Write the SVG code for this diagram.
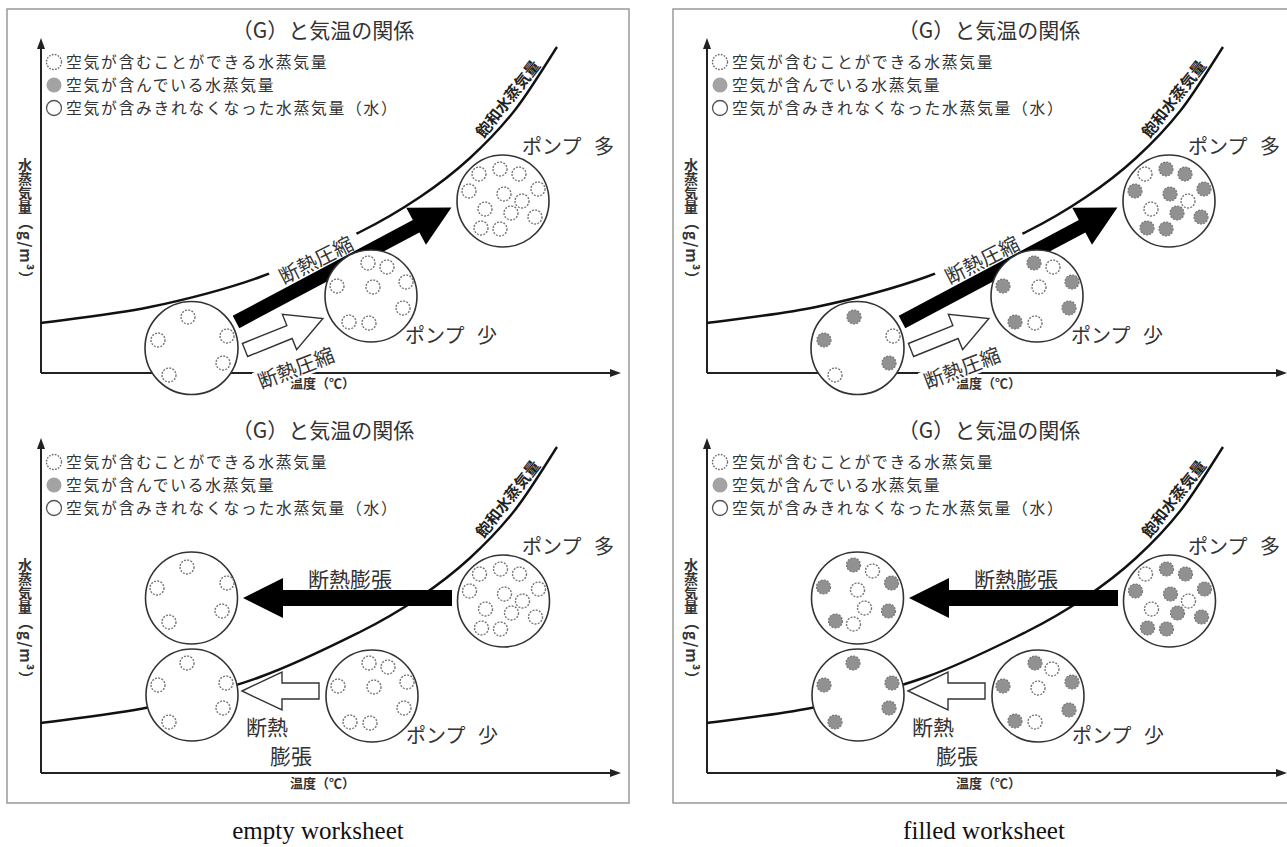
<svg xmlns="http://www.w3.org/2000/svg" width="1287" height="847" viewBox="0 0 1287 847">
<style>
.frame{fill:none;stroke:#999;stroke-width:1.5}
.ax{stroke:#222;stroke-width:2;fill:none}
.axh{fill:#222}
.curve{fill:none;stroke:#111;stroke-width:2.4}
.big{fill:#fff;stroke:#333;stroke-width:1.6}
.d{fill:#fff;stroke:#777;stroke-width:1.4;stroke-dasharray:2 1.3}
.g{fill:#919191;stroke:#777;stroke-width:1.2;stroke-dasharray:2 1.3}
.ld{fill:#fff;stroke:#666;stroke-width:1.4;stroke-dasharray:1.6 1.4}
.lg{fill:#a3a3a3}
.lo{fill:#fff;stroke:#555;stroke-width:1.3}
.jp{font-family:"Noto Sans CJK JP","Noto Sans CJK SC",sans-serif;fill:#333}
.title{font-size:21px;text-anchor:middle}
.leg{font-size:15.8px;letter-spacing:1.7px}
.lab{font-size:20px}
.bl{font-weight:bold}
.sat{font-size:15.5px;font-weight:bold;fill:#222}
.hol{fill:#fff;stroke:#333;stroke-width:1.4}
.blk{fill:#000}
.bg{fill:#fff}
.cap{font-family:"Liberation Serif",serif;font-size:25px;fill:#111;text-anchor:middle}
</style>

<rect class="frame" x="7" y="9" width="622" height="794"/>
<rect class="frame" x="673" y="9" width="622" height="794"/>

<!-- ===== TOP LEFT (empty, compression) ===== -->
<g id="tl" transform="translate(0,0)">
 <text class="jp title" x="323" y="38">（G）と気温の関係</text>
 <g id="tl-legend">
  <circle class="ld" cx="54" cy="62" r="7.5"/><text class="jp leg" x="66" y="68">空気が含むことができる水蒸気量</text>
  <circle class="lg" cx="54" cy="85" r="7.5"/><text class="jp leg" x="66" y="91">空気が含んでいる水蒸気量</text>
  <circle class="lo" cx="54" cy="108" r="7.5"/><text class="jp leg" x="66" y="114">空気が含みきれなくなった水蒸気量（水）</text>
 </g>
 <g id="tl-axes">
  <line class="ax" x1="41" y1="373" x2="41" y2="46"/><polygon class="axh" points="41,38 37,49 45,49"/>
  <line class="ax" x1="41" y1="373" x2="612" y2="373"/><polygon class="axh" points="621,373 610,369 610,377"/>
  <text class="jp bl" x="25" y="158" font-size="14" style="writing-mode:vertical-rl">水蒸気量</text>
  <text class="jp bl" font-size="15" letter-spacing="1" text-anchor="middle" transform="translate(20,251) rotate(90)">（g/m³）</text>
  <text class="jp bl" x="290" y="388" font-size="13">温度（℃）</text>
 </g>
 <path class="curve" d="M41,323 C59.2,320.3 113.5,314.7 150,307 C186.5,299.3 225,289.5 260,277 C295,264.5 333.3,245.3 360,232 C386.7,218.7 401.7,209.3 420,197 C438.3,184.7 454.2,172.5 470,158 C485.8,143.5 500.5,128.5 515,110 C529.5,91.5 550,57.5 557,47"/>
 <text class="jp sat" text-anchor="middle" transform="translate(508,99) rotate(-52)" y="5.5">飽和水蒸気量</text>
 <g id="tl-labels">
  <g transform="translate(316,260) rotate(-27)"><rect class="bg" x="-48" y="-11" width="96" height="22"/><text class="jp lab" text-anchor="middle" y="7.5">断熱圧縮</text></g>
  <g transform="translate(296,368) rotate(-21)"><rect class="bg" x="-43" y="-11" width="86" height="22"/><text class="jp lab" text-anchor="middle" y="7.5">断熱圧縮</text></g>
 </g>
 <g id="tl-connectors">
  <polygon class="blk" transform="translate(236,322) rotate(-28)" points="0,-7 204,-7 204,-21 244,0 204,21 204,7 0,7"/>
  <polygon class="hol" transform="translate(245,350) rotate(-22)" points="0,-7 48,-7 48,-19 84,0 48,19 48,7 0,7"/>
 </g>
 <g id="tl-A" transform="translate(191.5,348)">
  <circle class="big" r="46.5"/>
  <circle class="d" cx="-3.5" cy="-31" r="7"/><circle class="d" cx="-33.5" cy="-8" r="7"/><circle class="d" cx="35.5" cy="-12" r="7"/><circle class="d" cx="31.5" cy="15" r="7"/><circle class="d" cx="-22.5" cy="27" r="7"/>
 </g>
 <g id="tl-B" transform="translate(371,296)">
  <circle class="big" r="46"/>
  <circle class="d" cx="-3" cy="-33" r="7"/><circle class="d" cx="16" cy="-29" r="7"/><circle class="d" cx="35" cy="-14" r="7"/><circle class="d" cx="-34" cy="-10" r="7"/><circle class="d" cx="2" cy="-9" r="7"/><circle class="d" cx="32" cy="12" r="7"/><circle class="d" cx="-22" cy="26" r="7"/><circle class="d" cx="-2" cy="27" r="7"/>
  <text class="jp lab" x="34" y="46.5" word-spacing="8">ポンプ 少</text>
 </g>
 <g id="tl-C" transform="translate(503,201)">
  <circle class="big" r="46"/>
  <circle class="d" cx="-24" cy="-27" r="7"/><circle class="d" cx="-3" cy="-32" r="7"/><circle class="d" cx="16" cy="-27" r="7"/><circle class="d" cx="-34" cy="-10" r="7"/><circle class="d" cx="1" cy="-7" r="7"/><circle class="d" cx="35" cy="-12" r="7"/><circle class="d" cx="-18" cy="8" r="7"/><circle class="d" cx="19" cy="0" r="7"/><circle class="d" cx="8" cy="12" r="7"/><circle class="d" cx="32" cy="16" r="7"/><circle class="d" cx="-22" cy="27" r="7"/><circle class="d" cx="-3" cy="28" r="7"/>
  <text class="jp lab" x="19" y="-47" word-spacing="8">ポンプ 多</text>
 </g>
</g>

<!-- ===== TOP RIGHT (filled, compression) ===== -->
<g id="tr" transform="translate(666,0)">
 <text class="jp title" x="323" y="38">（G）と気温の関係</text>
 <g id="tr-legend">
  <circle class="ld" cx="54" cy="62" r="7.5"/><text class="jp leg" x="66" y="68">空気が含むことができる水蒸気量</text>
  <circle class="lg" cx="54" cy="85" r="7.5"/><text class="jp leg" x="66" y="91">空気が含んでいる水蒸気量</text>
  <circle class="lo" cx="54" cy="108" r="7.5"/><text class="jp leg" x="66" y="114">空気が含みきれなくなった水蒸気量（水）</text>
 </g>
 <g id="tr-axes">
  <line class="ax" x1="41" y1="373" x2="41" y2="46"/><polygon class="axh" points="41,38 37,49 45,49"/>
  <line class="ax" x1="41" y1="373" x2="612" y2="373"/><polygon class="axh" points="621,373 610,369 610,377"/>
  <text class="jp bl" x="25" y="158" font-size="14" style="writing-mode:vertical-rl">水蒸気量</text>
  <text class="jp bl" font-size="15" letter-spacing="1" text-anchor="middle" transform="translate(20,251) rotate(90)">（g/m³）</text>
  <text class="jp bl" x="290" y="388" font-size="13">温度（℃）</text>
 </g>
 <path class="curve" d="M41,323 C59.2,320.3 113.5,314.7 150,307 C186.5,299.3 225,289.5 260,277 C295,264.5 333.3,245.3 360,232 C386.7,218.7 401.7,209.3 420,197 C438.3,184.7 454.2,172.5 470,158 C485.8,143.5 500.5,128.5 515,110 C529.5,91.5 550,57.5 557,47"/>
 <text class="jp sat" text-anchor="middle" transform="translate(508,99) rotate(-52)" y="5.5">飽和水蒸気量</text>
 <g id="tr-labels">
  <g transform="translate(316,260) rotate(-27)"><rect class="bg" x="-48" y="-11" width="96" height="22"/><text class="jp lab" text-anchor="middle" y="7.5">断熱圧縮</text></g>
  <g transform="translate(296,368) rotate(-21)"><rect class="bg" x="-43" y="-11" width="86" height="22"/><text class="jp lab" text-anchor="middle" y="7.5">断熱圧縮</text></g>
 </g>
 <g id="tr-connectors">
  <polygon class="blk" transform="translate(236,322) rotate(-28)" points="0,-7 204,-7 204,-21 244,0 204,21 204,7 0,7"/>
  <polygon class="hol" transform="translate(245,350) rotate(-22)" points="0,-7 48,-7 48,-19 84,0 48,19 48,7 0,7"/>
 </g>
 <g id="tr-A" transform="translate(191.5,348)">
  <circle class="big" r="46.5"/>
  <circle class="g" cx="-3.5" cy="-31" r="7"/><circle class="g" cx="-33.5" cy="-8" r="7"/><circle class="d" cx="35.5" cy="-12" r="7"/><circle class="g" cx="31.5" cy="15" r="7"/><circle class="d" cx="-22.5" cy="27" r="7"/>
 </g>
 <g id="tr-B" transform="translate(371,296)">
  <circle class="big" r="46"/>
  <circle class="g" cx="-3" cy="-33" r="7"/><circle class="d" cx="16" cy="-29" r="7"/><circle class="g" cx="35" cy="-14" r="7"/><circle class="g" cx="-34" cy="-10" r="7"/><circle class="d" cx="2" cy="-9" r="7"/><circle class="g" cx="32" cy="12" r="7"/><circle class="g" cx="-22" cy="26" r="7"/><circle class="d" cx="-2" cy="27" r="7"/>
  <text class="jp lab" x="34" y="46.5" word-spacing="8">ポンプ 少</text>
 </g>
 <g id="tr-C" transform="translate(503,201)">
  <circle class="big" r="46"/>
  <circle class="d" cx="-24" cy="-27" r="7"/><circle class="g" cx="-3" cy="-32" r="7"/><circle class="g" cx="16" cy="-27" r="7"/><circle class="g" cx="-34" cy="-10" r="7"/><circle class="g" cx="1" cy="-7" r="7"/><circle class="g" cx="35" cy="-12" r="7"/><circle class="d" cx="-18" cy="8" r="7"/><circle class="d" cx="19" cy="0" r="7"/><circle class="g" cx="8" cy="12" r="7"/><circle class="g" cx="32" cy="16" r="7"/><circle class="g" cx="-22" cy="27" r="7"/><circle class="g" cx="-3" cy="28" r="7"/>
  <text class="jp lab" x="19" y="-47" word-spacing="8">ポンプ 多</text>
 </g>
</g>

<!-- ===== BOTTOM LEFT (empty, expansion) ===== -->
<g id="bl" transform="translate(0,400)">
 <text class="jp title" x="323" y="38">（G）と気温の関係</text>
 <g id="bl-legend">
  <circle class="ld" cx="54" cy="62" r="7.5"/><text class="jp leg" x="66" y="68">空気が含むことができる水蒸気量</text>
  <circle class="lg" cx="54" cy="85" r="7.5"/><text class="jp leg" x="66" y="91">空気が含んでいる水蒸気量</text>
  <circle class="lo" cx="54" cy="108" r="7.5"/><text class="jp leg" x="66" y="114">空気が含みきれなくなった水蒸気量（水）</text>
 </g>
 <g id="bl-axes">
  <line class="ax" x1="41" y1="373" x2="41" y2="46"/><polygon class="axh" points="41,38 37,49 45,49"/>
  <line class="ax" x1="41" y1="373" x2="612" y2="373"/><polygon class="axh" points="621,373 610,369 610,377"/>
  <text class="jp bl" x="25" y="158" font-size="14" style="writing-mode:vertical-rl">水蒸気量</text>
  <text class="jp bl" font-size="15" letter-spacing="1" text-anchor="middle" transform="translate(20,251) rotate(90)">（g/m³）</text>
  <text class="jp bl" x="290" y="388" font-size="13">温度（℃）</text>
 </g>
 <path class="curve" d="M41,323 C59.2,320.3 113.5,314.7 150,307 C186.5,299.3 225,289.5 260,277 C295,264.5 333.3,245.3 360,232 C386.7,218.7 401.7,209.3 420,197 C438.3,184.7 454.2,172.5 470,158 C485.8,143.5 500.5,128.5 515,110 C529.5,91.5 550,57.5 557,47"/>
 <text class="jp sat" text-anchor="middle" transform="translate(508,99) rotate(-52)" y="5.5">飽和水蒸気量</text>
 <g id="bl-labels">
  <text class="jp" x="350" y="187" font-size="21" text-anchor="middle">断熱膨張</text>
  <text class="jp" x="246" y="335" font-size="21">断熱</text>
  <text class="jp" x="270" y="364" font-size="21">膨張</text>
 </g>
 <g id="bl-connectors">
  <polygon class="blk" points="243,198 283,178 283,190 452,190 452,206 283,206 283,218"/>
  <polygon class="hol" points="242,291 282,272 282,283 319,283 319,299 282,299 282,310"/>
 </g>
 <g id="bl-D" transform="translate(191.5,198)">
  <circle class="big" r="46"/>
  <circle class="d" cx="-4.5" cy="-31" r="7"/><circle class="d" cx="-34.5" cy="-10" r="7"/><circle class="d" cx="35.5" cy="-15" r="7"/><circle class="d" cx="30.5" cy="13" r="7"/><circle class="d" cx="-22.5" cy="24" r="7"/>
 </g>
 <g id="bl-E" transform="translate(503.5,201)">
  <circle class="big" r="46"/>
  <circle class="d" cx="-24" cy="-27" r="7"/><circle class="d" cx="-3" cy="-32" r="7"/><circle class="d" cx="16" cy="-27" r="7"/><circle class="d" cx="-34" cy="-10" r="7"/><circle class="d" cx="1" cy="-7" r="7"/><circle class="d" cx="35" cy="-12" r="7"/><circle class="d" cx="-18" cy="8" r="7"/><circle class="d" cx="19" cy="0" r="7"/><circle class="d" cx="8" cy="12" r="7"/><circle class="d" cx="32" cy="16" r="7"/><circle class="d" cx="-22" cy="27" r="7"/><circle class="d" cx="-3" cy="28" r="7"/>
  <text class="jp lab" x="18.5" y="-47" word-spacing="8">ポンプ 多</text>
 </g>
 <g id="bl-F" transform="translate(372,296)">
  <circle class="big" r="46"/>
  <circle class="d" cx="-3" cy="-33" r="7"/><circle class="d" cx="16" cy="-29" r="7"/><circle class="d" cx="35" cy="-14" r="7"/><circle class="d" cx="-34" cy="-10" r="7"/><circle class="d" cx="2" cy="-9" r="7"/><circle class="d" cx="32" cy="12" r="7"/><circle class="d" cx="-22" cy="26" r="7"/><circle class="d" cx="-2" cy="27" r="7"/>
  <text class="jp lab" x="34" y="47" word-spacing="8">ポンプ 少</text>
 </g>
 <g id="bl-G" transform="translate(192,295)">
  <circle class="big" r="46"/>
  <circle class="d" cx="-5" cy="-32" r="7"/><circle class="d" cx="-34" cy="-10" r="7"/><circle class="d" cx="34" cy="-12" r="7"/><circle class="d" cx="31" cy="13" r="7"/><circle class="d" cx="-23" cy="27" r="7"/>
 </g>
</g>

<!-- ===== BOTTOM RIGHT (filled, expansion) ===== -->
<g id="br" transform="translate(666,400)">
 <text class="jp title" x="323" y="38">（G）と気温の関係</text>
 <g id="br-legend">
  <circle class="ld" cx="54" cy="62" r="7.5"/><text class="jp leg" x="66" y="68">空気が含むことができる水蒸気量</text>
  <circle class="lg" cx="54" cy="85" r="7.5"/><text class="jp leg" x="66" y="91">空気が含んでいる水蒸気量</text>
  <circle class="lo" cx="54" cy="108" r="7.5"/><text class="jp leg" x="66" y="114">空気が含みきれなくなった水蒸気量（水）</text>
 </g>
 <g id="br-axes">
  <line class="ax" x1="41" y1="373" x2="41" y2="46"/><polygon class="axh" points="41,38 37,49 45,49"/>
  <line class="ax" x1="41" y1="373" x2="612" y2="373"/><polygon class="axh" points="621,373 610,369 610,377"/>
  <text class="jp bl" x="25" y="158" font-size="14" style="writing-mode:vertical-rl">水蒸気量</text>
  <text class="jp bl" font-size="15" letter-spacing="1" text-anchor="middle" transform="translate(20,251) rotate(90)">（g/m³）</text>
  <text class="jp bl" x="290" y="388" font-size="13">温度（℃）</text>
 </g>
 <path class="curve" d="M41,323 C59.2,320.3 113.5,314.7 150,307 C186.5,299.3 225,289.5 260,277 C295,264.5 333.3,245.3 360,232 C386.7,218.7 401.7,209.3 420,197 C438.3,184.7 454.2,172.5 470,158 C485.8,143.5 500.5,128.5 515,110 C529.5,91.5 550,57.5 557,47"/>
 <text class="jp sat" text-anchor="middle" transform="translate(508,99) rotate(-52)" y="5.5">飽和水蒸気量</text>
 <g id="br-labels">
  <text class="jp" x="350" y="187" font-size="21" text-anchor="middle">断熱膨張</text>
  <text class="jp" x="246" y="335" font-size="21">断熱</text>
  <text class="jp" x="270" y="364" font-size="21">膨張</text>
 </g>
 <g id="br-connectors">
  <polygon class="blk" points="243,198 283,178 283,190 452,190 452,206 283,206 283,218"/>
  <polygon class="hol" points="242,291 282,272 282,283 319,283 319,299 282,299 282,310"/>
 </g>
 <g id="br-D" transform="translate(191.5,198)">
  <circle class="big" r="46"/>
  <circle class="g" cx="-4" cy="-33" r="7"/><circle class="d" cx="15" cy="-27" r="7"/><circle class="g" cx="-34" cy="-11" r="7"/><circle class="d" cx="0" cy="-8" r="7"/><circle class="g" cx="34" cy="-15" r="7"/><circle class="d" cx="7" cy="10" r="7"/><circle class="g" cx="31" cy="13" r="7"/><circle class="g" cx="-22" cy="23" r="7"/><circle class="d" cx="-4" cy="26" r="7"/>
 </g>
 <g id="br-E" transform="translate(503.5,201)">
  <circle class="big" r="46"/>
  <circle class="d" cx="-24" cy="-27" r="7"/><circle class="g" cx="-3" cy="-32" r="7"/><circle class="g" cx="16" cy="-27" r="7"/><circle class="g" cx="-34" cy="-10" r="7"/><circle class="g" cx="1" cy="-7" r="7"/><circle class="g" cx="35" cy="-12" r="7"/><circle class="d" cx="-18" cy="8" r="7"/><circle class="d" cx="19" cy="0" r="7"/><circle class="g" cx="8" cy="12" r="7"/><circle class="g" cx="32" cy="16" r="7"/><circle class="g" cx="-22" cy="27" r="7"/><circle class="g" cx="-3" cy="28" r="7"/>
  <text class="jp lab" x="18.5" y="-47" word-spacing="8">ポンプ 多</text>
 </g>
 <g id="br-F" transform="translate(372,296)">
  <circle class="big" r="46"/>
  <circle class="g" cx="-3" cy="-33" r="7"/><circle class="d" cx="14" cy="-27" r="7"/><circle class="g" cx="34" cy="-14" r="7"/><circle class="g" cx="-35" cy="-10" r="7"/><circle class="d" cx="0" cy="-8" r="7"/><circle class="g" cx="31" cy="14" r="7"/><circle class="g" cx="-23" cy="25" r="7"/><circle class="d" cx="-3" cy="26" r="7"/>
  <text class="jp lab" x="34" y="47" word-spacing="8">ポンプ 少</text>
 </g>
 <g id="br-G" transform="translate(192,295)">
  <circle class="big" r="46"/>
  <circle class="g" cx="-5" cy="-32" r="7"/><circle class="g" cx="-34" cy="-10" r="7"/><circle class="g" cx="34" cy="-12" r="7"/><circle class="g" cx="31" cy="13" r="7"/><circle class="g" cx="-23" cy="27" r="7"/>
 </g>
</g>

<text class="cap" x="318" y="839">empty worksheet</text>
<text class="cap" x="984" y="839">filled worksheet</text>
</svg>
